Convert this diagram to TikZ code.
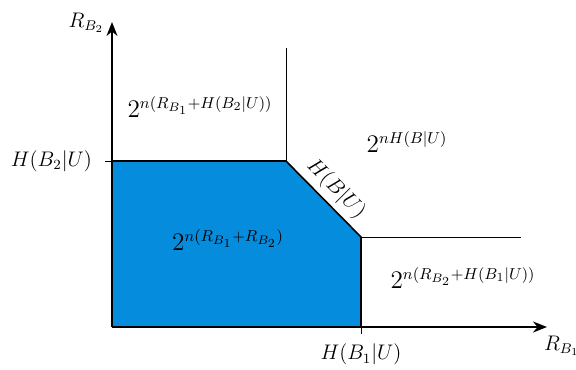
\documentclass[tikz,border=0pt]{standalone}
\usepackage{tikz}
\usetikzlibrary{arrows.meta,positioning}
\definecolor{regcol}{HTML}{058CDD}

\begin{document}
\begin{tikzpicture}[
        axis/.style={-{Stealth[length=2.8mm,width=2.2mm]},line width=1pt},
        rim/.style={line width=0.9pt},
        thin/.style={line width=0.5pt},
        lbl/.style={font=\large,inner sep=1pt},
        rate/.style={font=\fontsize{13.5}{16}\selectfont,inner sep=1pt}]
        \useasboundingbox (-2.24,-0.84) rectangle (9.28,6.54);
        % corner points of the region
        \coordinate (o) at (0,0);
        \coordinate (h2) at (0,3.32);
        \coordinate (c1) at (3.48,3.32);
        \coordinate (c2) at (4.98,1.8);
        \coordinate (h1) at (4.98,0);
        \coordinate (ytip) at (0,6.1);
        \coordinate (xtip) at (8.7,0);
        \coordinate (vtop) at (3.48,5.58);
        \coordinate (hend) at (8.18,1.8);
        \fill[regcol](o)--(h2)--(c1)--(c2)--(h1)--cycle;
        \draw[thin](c1)--(vtop);\draw[thin](c2)--(hend);
        \draw[rim](h2)--(c1)--(c2)--(h1);
        \draw[thin](h2)--++(-0.14,0);\draw[thin](h1)--++(0,-0.14);
        \draw[axis](o)--(ytip);\draw[axis](o)--(xtip);
        \node[lbl,anchor=south east](ry) at (-0.12,5.85){$R_{B_2}$};
        \node[lbl,anchor=north west](rx) at (8.6,-0.14){$R_{B_1}$};
        \node[lbl,anchor=east](lh2) at (-0.36,3.32){$H(B_2|U)$};
        \node[lbl,below=0.3cm of h1](lh1){$H(B_1|U)$};
        \node[rate](top) at (1.76,4.4){$2^{n(R_{B_1}+H(B_2|U))}$};
        \node[rate](mid) at (5.9,3.7){$2^{nH(B|U)}$};
        \node[rate](reg) at (2.32,1.74){$2^{n(R_{B_1}+R_{B_2})}$};
        \node[rate](rgt) at (7.02,0.98){$2^{n(R_{B_2}+H(B_1|U))}$};
        \node[lbl,rotate=-45](hb) at (4.48,2.76){$H(B|U)$};
      \end{tikzpicture}
\end{document}
